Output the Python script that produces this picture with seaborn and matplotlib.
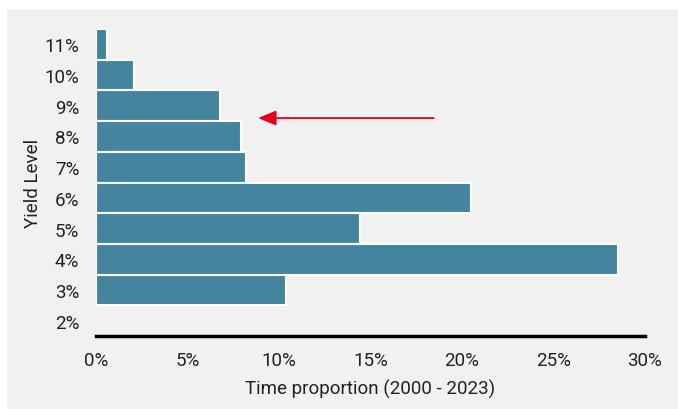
import numpy as np
import pandas as pd
import matplotlib
matplotlib.use("Agg")
import matplotlib.pyplot as plt
import matplotlib.patches as mpatches
import seaborn as sns

levels = ["11%", "10%", "9%", "8%", "7%", "6%", "5%", "4%", "3%", "2%"]
proportion = [0.6, 2.1, 6.8, 7.9, 8.2, 20.5, 14.4, 28.5, 10.4, 0.0]
xticks = [0, 5, 10, 15, 20, 25, 30]

BAR_COLOR = "#45849f"
BG_COLOR = "#f1f1f1"
TXT = "#222222"

df = pd.DataFrame({"level": levels, "proportion": proportion})

sns.set_style("white")
plt.rcParams["font.family"] = ["Roboto", "DejaVu Sans"]

fig = plt.figure(figsize=(6.78, 4.10), dpi=100, facecolor=BG_COLOR)
# thin white border at top and left
fig.patches.append(mpatches.Rectangle((0, 1 - 9 / 410), 1, 9 / 410, transform=fig.transFigure,
                                      color="white", zorder=0))
fig.patches.append(mpatches.Rectangle((0, 0), 6 / 678, 1, transform=fig.transFigure,
                                      color="white", zorder=0))

ax = fig.add_axes([96 / 678, 1 - 337 / 410, 549 / 678, 307 / 410])
ax.set_facecolor(BG_COLOR)

sns.barplot(data=df, x="proportion", y="level", order=levels, orient="h",
            color=BAR_COLOR, saturation=1, width=1.0, edgecolor="white",
            linewidth=1.5, ax=ax)
for p in ax.patches:
    if p.get_width() == 0:
        p.set_linewidth(0)

ax.set_xlim(0, 30)
ax.set_ylim(9.5, -0.5)
ax.set_xticks(xticks)
ax.set_xticklabels([f"{t}%" for t in xticks], fontsize=13.5, color=TXT)
ax.tick_params(axis="y", labelsize=13.5, labelcolor=TXT, length=0, pad=12)
ax.tick_params(axis="x", length=0, pad=11)

for s in ["top", "right", "left"]:
    ax.spines[s].set_visible(False)
ax.spines["bottom"].set_color("black")
ax.spines["bottom"].set_linewidth(2.5)

ax.set_xlabel("Time proportion (2000 - 2023)", fontsize=13.5, color=TXT, labelpad=7)
ax.set_ylabel("Yield Level", fontsize=13.5, color=TXT, labelpad=2)

ax.annotate("", xy=(8.7, 2.4), xytext=(18.6, 2.4),
            arrowprops=dict(arrowstyle="-|>,head_length=1.1,head_width=0.45",
                            color="#e0001b", lw=1.3))

fig.savefig("out.png", dpi=100, facecolor=fig.get_facecolor())
